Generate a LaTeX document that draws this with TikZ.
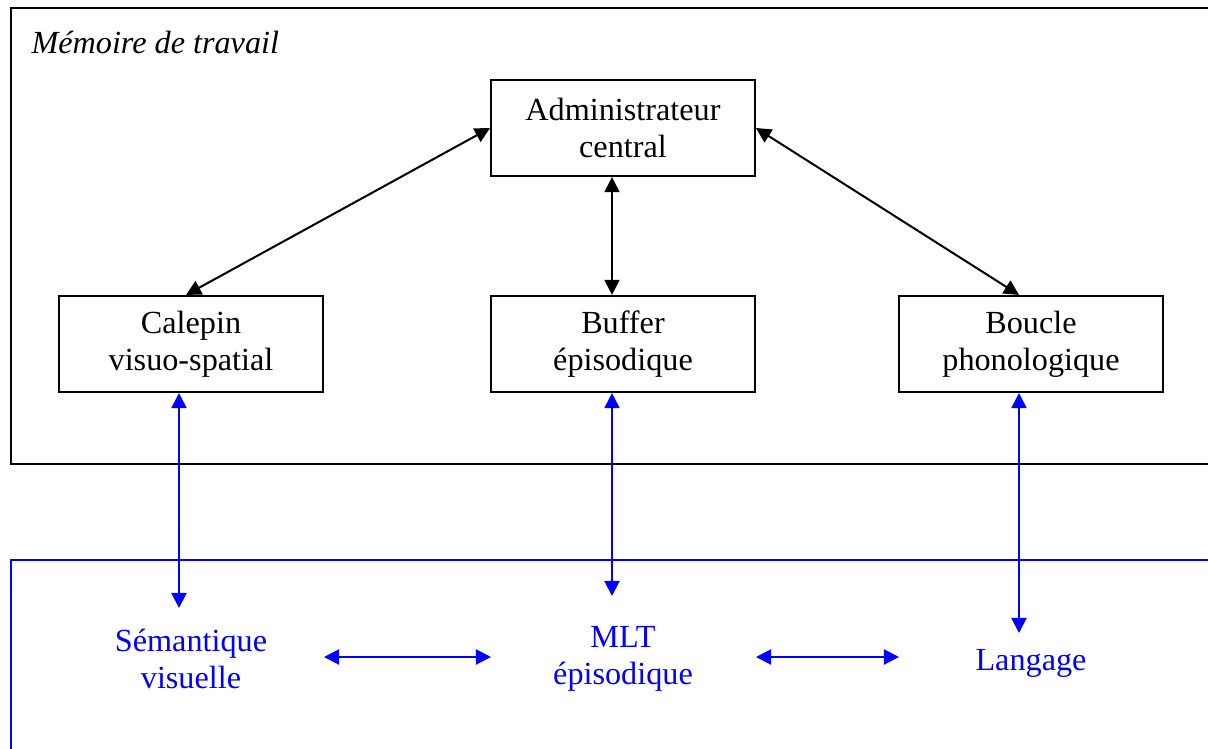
\documentclass[tikz,border=0pt]{standalone}
\usepackage{fontspec}
\setmainfont{Liberation Serif}
\usetikzlibrary{arrows.meta,calc}
\definecolor{pureblue}{RGB}{0,0,255}
\begin{document}
\begin{tikzpicture}[x=0.3725pt,y=-0.3725pt,
  every node/.style={font=\fontsize{12pt}{13.8pt}\selectfont, align=center, inner sep=0pt},
  boxnode/.style={draw, line width=0.75pt, minimum width=98.3pt, minimum height=35.8pt},
  link/.style={line width=0.75pt, {Triangle[length=5.6pt,width=5.6pt]}-{Triangle[length=5.6pt,width=5.6pt]}},
  bluelink/.style={link, draw=pureblue},
  bluetext/.style={text=pureblue}]
\useasboundingbox (0,0) rectangle (1208,749);
\begin{scope}
\clip (0,0) rectangle (1208,749);
% working-memory frame
\draw[line width=0.75pt] (11,8) rectangle (1230,464);
\node[anchor=west, font=\fontsize{12pt}{13.8pt}\selectfont\itshape] (title) at (31,42) {Mémoire de travail};
% long-term memory frame
\draw[line width=0.75pt, draw=pureblue] (11,560) rectangle (1230,780);
\end{scope}

% components
\node[boxnode] (adm) at (623,128) {Administrateur\\central};
\node[boxnode] (cal) at (191,344) {Calepin\\visuo-spatial};
\node[boxnode] (buf) at (623,344) {Buffer\\épisodique};
\node[boxnode] (bou) at (1031,344) {Boucle\\phonologique};

\draw[link] (adm.west) -- ($(cal.north)+(-5,0)$);
\draw[link] (adm.east) -- ($(bou.north)+(-12,0)$);
\draw[link] ($(adm.south)+(-11,0)$) -- ($(buf.north)+(-11,0)$);

% long-term stores
\node[bluetext] (sem) at (191,659) {Sémantique\\visuelle};
\node[bluetext] (mlt) at (623,659) {MLT\\épisodique};
\node[bluetext] (lang) at (1031,663) {Langage};

\coordinate (semtop) at (179,608);
\coordinate (mlttop) at (612,596);
\coordinate (langtop) at (1019,633);
\draw[bluelink] ($(cal.south)+(-12,0)$) -- (semtop);
\draw[bluelink] ($(buf.south)+(-11,0)$) -- (mlttop);
\draw[bluelink] ($(bou.south)+(-12,0)$) -- (langtop);

\coordinate (h1a) at (324,657);
\coordinate (h1b) at (491,657);
\coordinate (h2a) at (756,657);
\coordinate (h2b) at (899,657);
\draw[bluelink] (h1a) -- (h1b);
\draw[bluelink] (h2a) -- (h2b);
\end{tikzpicture}
\end{document}
